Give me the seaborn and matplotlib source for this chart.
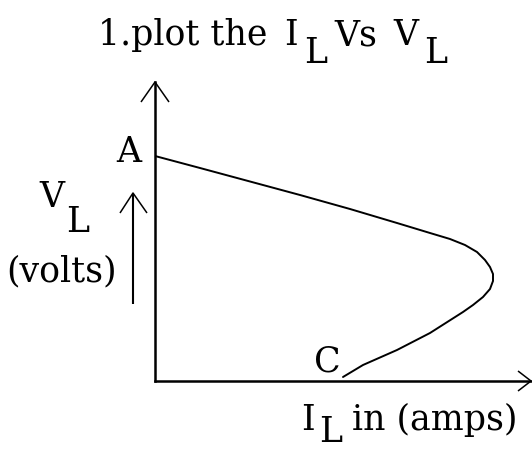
import matplotlib
matplotlib.use("Agg")
import matplotlib.pyplot as plt
import seaborn as sns
import pandas as pd
from matplotlib.lines import Line2D

# ---- data (arbitrary units) ----
I_L = [0.00, 0.45, 0.95, 1.45, 1.95, 2.42, 2.75, 2.95, 3.10, 3.22, 3.30, 3.35,
       3.38, 3.38, 3.35, 3.28, 3.18, 3.08, 2.75, 2.42, 2.08, 1.98, 1.88]
V_L = [2.25, 2.13, 1.995, 1.86, 1.72, 1.58, 1.48, 1.42, 1.36, 1.29, 1.21, 1.14,
       1.07, 1.00, 0.92, 0.84, 0.76, 0.69, 0.48, 0.31, 0.16, 0.10, 0.04]
title_parts = ["1.plot the", "I", "L", "Vs", "V", "L"]
point_labels = ["A", "C"]
y_label = ["V", "L", "(volts)"]
x_label = ["I", "L", "in (amps)"]

sns.set_theme(style="white")
plt.rcParams['font.family'] = ['DejaVu Serif']

W, H = 532, 451
fig = plt.figure(figsize=(W / 100, H / 100), dpi=100)
fig.patch.set_facecolor("white")

def P(px, py):
    return (px / W, 1 - py / H)

ax = fig.add_axes([155 / W, 1 - 381 / H, (531 - 155) / W, (381 - 82) / H])
df = pd.DataFrame({"I_L": I_L, "V_L": V_L})
sns.lineplot(data=df, x="I_L", y="V_L", sort=False, estimator=None,
             color="black", lw=1.4, ax=ax)
ax.set_xlim(0, 3.76)
ax.set_ylim(0, 2.99)
ax.set_xticks([])
ax.set_yticks([])
ax.set_xlabel("")
ax.set_ylabel("")
ax.set_facecolor("none")
for s in ["top", "right"]:
    ax.spines[s].set_visible(False)
for s in ["left", "bottom"]:
    ax.spines[s].set_visible(True)
    ax.spines[s].set_color("black")
    ax.spines[s].set_linewidth(1.8)

def line(pts, lw=1.0):
    xs = [P(*p)[0] for p in pts]
    ys = [P(*p)[1] for p in pts]
    fig.add_artist(Line2D(xs, ys, transform=fig.transFigure, color="black",
                          lw=lw, solid_capstyle="butt"))

# arrowheads on axes
line([(141, 102), (155, 82), (169, 102)], lw=1.1)
line([(518, 371), (531, 381), (518, 391)], lw=1.1)
# small V_L arrow
line([(133, 304), (133, 194)], lw=1.5)
line([(120, 213), (133, 193), (147, 213)], lw=1.1)

fs = 25
def T(s, px, py, size=fs):
    x, y = P(px, py)
    fig.text(x, y, s, fontsize=size, ha="left", va="baseline", color="black")

# title
T(title_parts[0], 98, 45)
T(title_parts[1], 284, 45)
T(title_parts[2], 304, 63)
T(title_parts[3], 334, 45)
T(title_parts[4], 393, 45)
T(title_parts[5], 424, 63)
# point labels
T(point_labels[0], 116, 162)
T(point_labels[1], 314, 372)
# y label
T(y_label[0], 39, 207)
T(y_label[1], 66, 232)
T(y_label[2], 6, 281)
# x label
T(x_label[0], 301, 430)
T(x_label[1], 319, 442)
T(x_label[2], 352, 430)

fig.savefig("out.png", dpi=100, facecolor="white")
